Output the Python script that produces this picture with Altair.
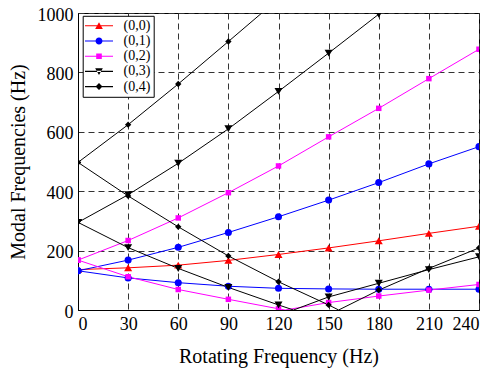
import altair as alt
import pandas as pd

# ---------------- data ----------------
series_names = ["(0,0)", "(0,1)", "(0,2)", "(0,3)", "(0,4)"]
series_colors = ["#ff0000", "#0000ff", "#ff00ff", "#000000", "#000000"]
marker_shapes = ["triangle-up", "circle", "square", "triangle-down", "diamond"]
marker_sizes = [64, 50, 30, 64, 40]

x_vals = [0, 30, 60, 90, 120, 150, 180, 210, 240]
x_ticks = [0, 30, 60, 90, 120, 150, 180, 210, 240]
y_ticks = [0, 200, 400, 600, 800, 1000]

red_00 = [136, 142, 151, 167, 187, 209, 233, 258, 282]
blue_01_up = [132, 168, 211, 261, 314, 370, 429, 492, 550]
blue_01_low = [132, 108, 92, 80, 73, 71, 70, 70, 70]
mag_02_up = [168, 234, 310, 395, 485, 583, 679, 779, 878]
mag_02_low = [168, 112, 69, 36, 4, 25, 47, 67, 86]
blk_03_up_x = [0, 30, 60, 90, 120, 150, 180]
blk_03_up = [295, 388, 494, 610, 736, 865, 996]
blk_03_low = [295, 210, 140, 76, 17, 44, 90, 136, 179]
blk_04_up_x = [0, 30, 60, 90, 120]
blk_04_up = [497, 624, 761, 904, 1048]
blk_04_low = [497, 384, 280, 182, 95, 17, 67, 140, 209]

# zero crossings of the lower branches (no marker drawn there)
mag_02_low_zero_x = 124
blk_03_low_zero_x = 129
blk_04_low_zero_x = 156

rows = []


def add(series, branch, xs, ys, marker=True):
    for xv, yv in zip(xs, ys):
        rows.append({"x": xv, "y": yv, "series": series, "branch": branch, "marker": marker})


add("(0,0)", "00", x_vals, red_00)
add("(0,1)", "01u", x_vals, blue_01_up)
add("(0,1)", "01l", x_vals, blue_01_low)
add("(0,2)", "02u", x_vals, mag_02_up)
add("(0,2)", "02l", x_vals, mag_02_low)
add("(0,2)", "02l", [mag_02_low_zero_x], [0], marker=False)
add("(0,3)", "03u", blk_03_up_x, blk_03_up)
add("(0,3)", "03l", x_vals, blk_03_low)
add("(0,3)", "03l", [blk_03_low_zero_x], [0], marker=False)
add("(0,4)", "04u", blk_04_up_x, blk_04_up)
add("(0,4)", "04l", x_vals, blk_04_low)
add("(0,4)", "04l", [blk_04_low_zero_x], [0], marker=False)

df = pd.DataFrame(rows)

FONT = "Liberation Serif"

xenc = alt.X("x:Q", scale=alt.Scale(domain=[0, 240], nice=False),
             axis=alt.Axis(values=x_ticks, title="Rotating Frequency (Hz)",
                           labelFont=FONT, titleFont=FONT, labelFontSize=18, titleFontSize=20,
                           titlePadding=13, labelPadding=5))
yenc = alt.Y("y:Q", scale=alt.Scale(domain=[0, 1000], nice=False),
             axis=alt.Axis(values=y_ticks, title="Modal Frequencies (Hz)", format="d",
                           labelFont=FONT, titleFont=FONT, labelFontSize=18, titleFontSize=20,
                           titlePadding=9, labelPadding=5, labelOffset=2))

layers = []
for name, col, shp, sz in zip(series_names, series_colors, marker_shapes, marker_sizes):
    sub = df[df["series"] == name]
    layers.append(
        alt.Chart(sub).mark_line(strokeWidth=1, clip=True, color=col).encode(
            x=xenc, y=yenc, detail="branch:N", order="x:Q"
        )
    )
for name, col, shp, sz in zip(series_names, series_colors, marker_shapes, marker_sizes):
    sub = df[(df["series"] == name) & (df["marker"])]
    layers.append(
        alt.Chart(sub).mark_point(filled=True, opacity=1, clip=True, color=col,
                                  shape=shp, size=sz).encode(x=xenc, y=yenc)
    )

# legend symbols: a short line with the marker on it
legend_paths = [
    "M-2,-0.075H2V0.075H-2ZM-0.55,0.45L0,-0.5L0.55,0.45Z",
    "M-2,-0.075H2V0.075H-2ZM0.5,0A0.5,0.5,0,1,1,-0.5,0A0.5,0.5,0,1,1,0.5,0Z",
    "M-2,-0.075H2V0.075H-2ZM-0.4,-0.4H0.4V0.4H-0.4Z",
    "M-2,-0.075H2V0.075H-2ZM-0.55,-0.45L0,0.5L0.55,-0.45Z",
    "M-2,-0.075H2V0.075H-2ZM-0.5,0L0,-0.5L0.5,0L0,0.5Z",
]

leg = alt.Legend(
    title=None, orient="none", legendX=4.7, legendY=2.8,
    strokeColor="black", fillColor="white", padding=3, cornerRadius=0,
    rowPadding=1.2, symbolSize=196, symbolOffset=6.3, labelOffset=17.6,
    symbolStrokeWidth=0, symbolOpacity=1,
    labelFont=FONT, labelFontSize=14, labelColor="black",
    labelExpr="datum.label + '\u00a0\u00a0'",
)

legend_layer = alt.Chart(df[df["marker"]]).mark_point(
    filled=True, opacity=0, clip=True
).encode(
    x=xenc, y=yenc,
    color=alt.Color("series:N", scale=alt.Scale(domain=series_names, range=series_colors), legend=leg),
    shape=alt.Shape("series:N", scale=alt.Scale(domain=series_names, range=legend_paths), legend=leg),
)
layers.append(legend_layer)

chart = alt.layer(*layers).properties(
    width=401, height=297,
    autosize=alt.AutoSizeParams(type="none"),
    padding={"left": 70, "top": 5, "right": 8, "bottom": 58},
).configure_view(
    stroke="black", strokeWidth=1
).configure_axis(
    labelFont=FONT, labelFontSize=18, labelColor="black",
    titleFont=FONT, titleFontSize=20, titleFontWeight="normal", titleColor="black",
    domainColor="black", domainWidth=1,
    ticks=False, tickSize=0,
    grid=True, gridColor="#333333", gridDash=[6, 4], gridWidth=1, gridOpacity=1,
)

chart.save("out.html", embed_options={"renderer": "svg", "actions": False})
